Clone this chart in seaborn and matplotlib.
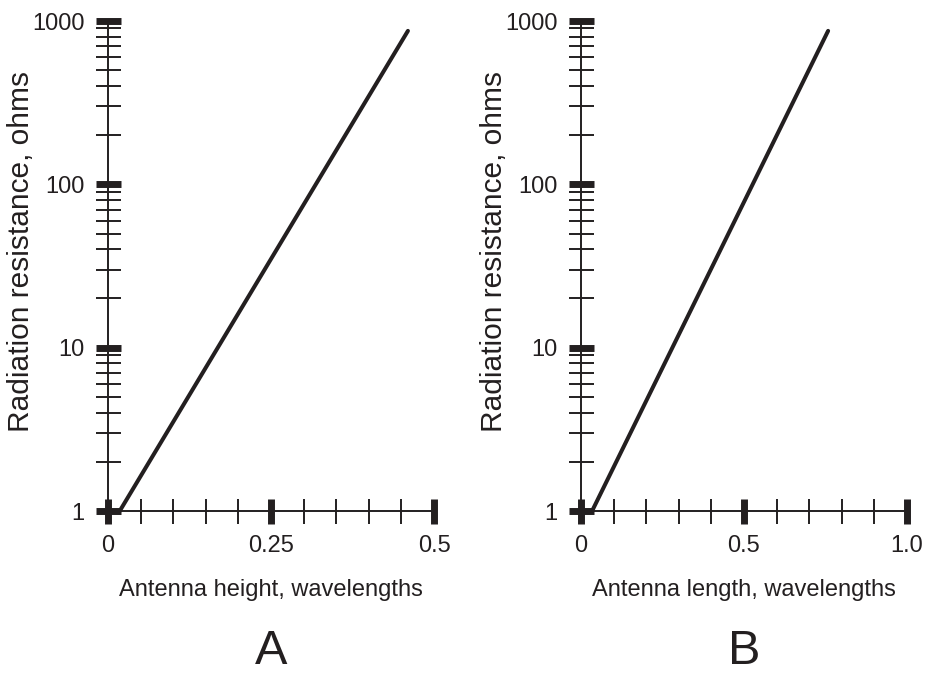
import matplotlib
matplotlib.use('Agg')
import matplotlib.pyplot as plt
import matplotlib.ticker as mticker
import numpy as np
import seaborn as sns

sns.set_style('white')
plt.rcParams['font.family'] = ['Liberation Sans', 'DejaVu Sans']

ink = '#231f20'

# Panel A: vertical antenna height vs radiation resistance
height_x = [0.018, 0.46]
height_r = [1, 870]
height_ticks = [0, 0.25, 0.5]
height_ticklabels = ['0', '0.25', '0.5']

# Panel B: antenna length vs radiation resistance
length_x = [0.034, 0.758]
length_r = [1, 870]
length_ticks = [0, 0.5, 1.0]
length_ticklabels = ['0', '0.5', '1.0']

y_ticks = [1, 10, 100, 1000]
y_ticklabels = ['1', '10', '100', '1000']

fig = plt.figure(figsize=(9.26, 6.75), dpi=100)
axA = fig.add_axes([108 / 926, 1 - 511 / 675, 326 / 926, 490 / 675])
axB = fig.add_axes([581 / 926, 1 - 511 / 675, 326 / 926, 490 / 675])


def style_panel(ax, xs, ys, xticks, xticklabels, xminor, xlabel):
    sns.lineplot(x=xs, y=ys, ax=ax, color=ink, linewidth=2.9)
    ax.set_yscale('log')
    ax.set_xlim(xticks[0], xticks[-1])
    ax.set_ylim(1, 1000)
    ax.set_facecolor('none')
    for side in ['top', 'right']:
        ax.spines[side].set_visible(False)
    for side in ['left', 'bottom']:
        ax.spines[side].set_color(ink)
        ax.spines[side].set_linewidth(1.4)
    ax.set_xticks(xticks)
    ax.set_xticklabels(xticklabels)
    ax.xaxis.set_minor_locator(mticker.FixedLocator(xminor))
    ax.set_yticks(y_ticks)
    ax.set_yticklabels(y_ticklabels)
    ax.yaxis.set_minor_locator(mticker.LogLocator(base=10, subs=np.arange(2, 10)))
    ax.yaxis.set_minor_formatter(mticker.NullFormatter())
    ax.tick_params(which='major', direction='inout', length=18, width=5,
                   color=ink, labelsize=17, labelcolor=ink, pad=8)
    ax.tick_params(which='minor', direction='inout', length=18, width=1.4,
                   color=ink)
    ax.tick_params(axis='both', which='both', left=True, bottom=True)
    ax.set_xlabel(xlabel, fontsize=17, color=ink, labelpad=16)
    ax.set_ylabel('Radiation resistance, ohms', fontsize=21.5, color=ink)
    ax.yaxis.set_label_coords(-0.225, 0.53)
    for ln in ax.get_lines():
        ln.set_clip_on(False)


style_panel(axA, height_x, height_r, height_ticks, height_ticklabels,
            [0.05, 0.1, 0.15, 0.2, 0.3, 0.35, 0.4, 0.45],
            'Antenna height, wavelengths')
style_panel(axB, length_x, length_r, length_ticks, length_ticklabels,
            [0.1, 0.2, 0.3, 0.4, 0.6, 0.7, 0.8, 0.9],
            'Antenna length, wavelengths')

fig.text(271 / 926, 1 - 664 / 675, 'A', fontsize=35, color=ink,
         ha='center', va='baseline')
fig.text(744 / 926, 1 - 664 / 675, 'B', fontsize=35, color=ink,
         ha='center', va='baseline')

fig.savefig('out.png', dpi=100, facecolor='white')
